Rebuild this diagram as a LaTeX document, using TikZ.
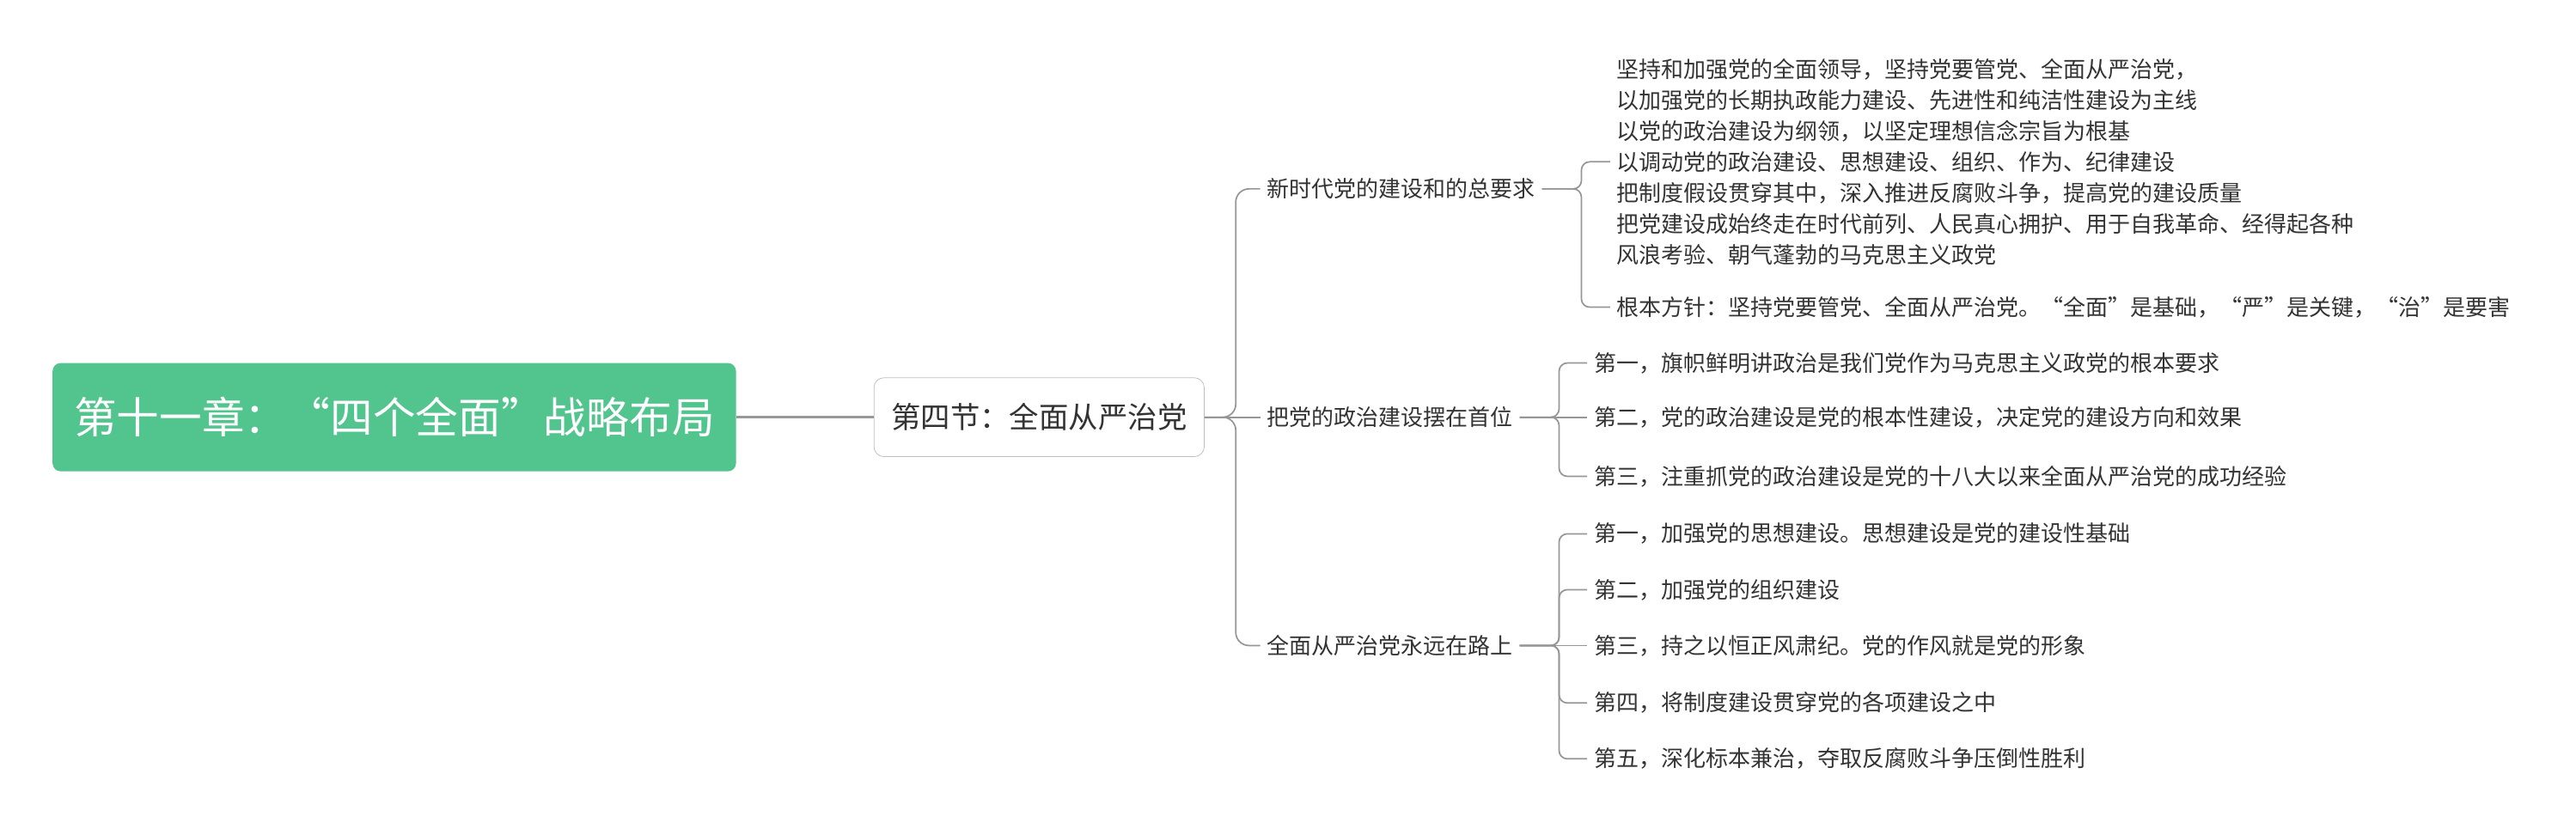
\documentclass[tikz,border=0pt]{standalone}
\usepackage{fontspec}
\setmainfont{Noto Sans CJK SC}
\usepackage{tikz}

\definecolor{rootgreen}{RGB}{82,196,141}
\definecolor{txtgray}{RGB}{51,51,51}
\definecolor{linegray}{RGB}{150,150,150}
\definecolor{boxgray}{RGB}{190,190,190}

\begin{document}
\begin{tikzpicture}[x=1pt, y=-1pt,
    every node/.style={font=\fontsize{13.6}{18.8}\selectfont, text=txtgray, inner sep=4pt},
    root/.style={fill=rootgreen, rounded corners=5pt, text=white,
      font=\fontsize{26}{30}\selectfont, minimum width=416pt, minimum height=66pt},
    sect/.style={draw=boxgray, fill=white, rounded corners=6pt,
      font=\fontsize{18}{22}\selectfont, minimum width=201pt, minimum height=48pt},
    leaf/.style={anchor=west},
    link/.style={draw=linegray, line width=0.9pt, rounded corners=5pt}]
    \useasboundingbox (0,0) rectangle (1568,508);

    % root and section
    \node[root] (root) at (240,254) {第十一章：“四个全面”战略布局};
    \node[sect] (sec) at (632.5,254) {第四节：全面从严治党};

    % branches
    \node[leaf] (b1) at (767,115) {新时代党的建设和的总要求};
    \node[leaf] (b2) at (767,254) {把党的政治建设摆在首位};
    \node[leaf] (b3) at (767,393) {全面从严治党永远在路上};

    % leaves of the first branch
    \node[leaf, align=left] (c11) at (980,98.5) {坚持和加强党的全面领导，坚持党要管党、全面从严治党，\\
      以加强党的长期执政能力建设、先进性和纯洁性建设为主线\\
      以党的政治建设为纲领，以坚定理想信念宗旨为根基\\
      以调动党的政治建设、思想建设、组织、作为、纪律建设\\
      把制度假设贯穿其中，深入推进反腐败斗争，提高党的建设质量\\
      把党建设成始终走在时代前列、人民真心拥护、用于自我革命、经得起各种\\
      风浪考验、朝气蓬勃的马克思主义政党};
    \node[leaf] (c12) at (980,187) {根本方针：坚持党要管党、全面从严治党。“全面”是基础，“严”是关键，“治”是要害};

    % leaves of the second branch
    \node[leaf] (c21) at (966,221) {第一，旗帜鲜明讲政治是我们党作为马克思主义政党的根本要求};
    \node[leaf] (c22) at (966,254) {第二，党的政治建设是党的根本性建设，决定党的建设方向和效果};
    \node[leaf] (c23) at (966,290) {第三，注重抓党的政治建设是党的十八大以来全面从严治党的成功经验};

    % leaves of the third branch
    \node[leaf] (c31) at (966,325) {第一，加强党的思想建设。思想建设是党的建设性基础};
    \node[leaf] (c32) at (966,359) {第二，加强党的组织建设};
    \node[leaf] (c33) at (966,393) {第三，持之以恒正风肃纪。党的作风就是党的形象};
    \node[leaf] (c34) at (966,428) {第四，将制度建设贯穿党的各项建设之中};
    \node[leaf] (c35) at (966,462) {第五，深化标本兼治，夺取反腐败斗争压倒性胜利};

    % connectors
    \draw[link, line width=1.4pt, draw=boxgray!80!black] (root.east) -- (sec.west);
    \draw[link] (sec.east) -- (b2.west);
    \foreach \b in {b1,b3}
      \draw[link, rounded corners=8pt] (sec.east) -- ++(19,0) |- (\b.west);
    \foreach \c in {c11,c12}
      \draw[link] (b1.east) -- ++(24,0) |- (\c.west);
    \draw[link] (b2.east) -- (c22.west);
    \foreach \c in {c21,c23}
      \draw[link] (b2.east) -- ++(24,0) |- (\c.west);
    \draw[link] (b3.east) -- (c33.west);
    \foreach \c in {c31,c32,c34,c35}
      \draw[link] (b3.east) -- ++(24,0) |- (\c.west);
\end{tikzpicture}
\end{document}
